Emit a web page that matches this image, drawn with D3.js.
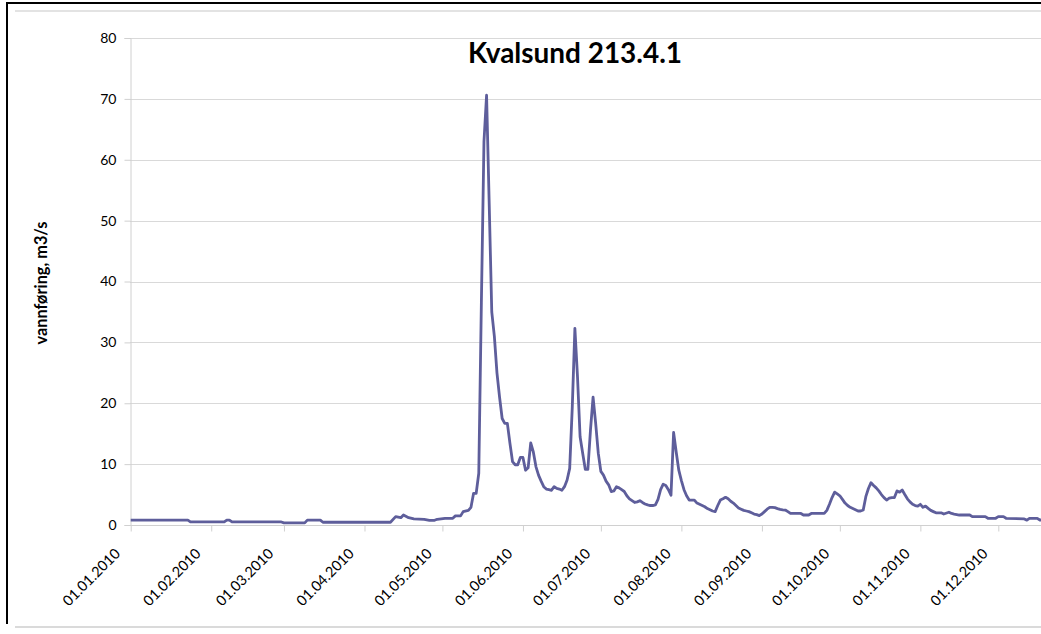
<!DOCTYPE html>
<html>
<head>
<meta charset="utf-8">
<script src="https://cdn.jsdelivr.net/npm/d3@7"></script>
<style>
  html, body { margin: 0; padding: 0; background: #fff; overflow: hidden; }
  svg { display: block; }
  text { font-family: Lato, "Open Sans", sans-serif; fill: #000; }
</style>
</head>
<body>
<svg id="chart" width="1041" height="634"></svg>
<script>
// ---------- data ----------
const chartTitle = "Kvalsund 213.4.1";
const yAxisTitle = "vannføring, m3/s";
const startDate = "2010-01-01";
// day offset from 01.01.2010
const dayOffset = [0,22,23,36,37,38,39,58,59,67,68,73,74,100,102,104,105,107,109,113,115,117,118,121,124,125,127,128,130,131,132,133,134,135,136,137,138,139,140,141,142,143,144,145,146,147,148,149,150,151,152,153,154,155,156,157,158,159,160,161,162,163,164,165,166,167,168,169,170,171,172,173,174,175,176,177,178,179,180,181,182,183,184,185,186,187,188,189,190,191,192,193,194,195,196,197,198,199,200,201,202,203,204,205,206,207,208,209,210,211,212,213,214,215,216,217,218,219,220,221,222,223,224,225,226,227,228,229,230,231,232,233,234,235,236,237,238,239,240,241,242,243,244,245,246,247,248,249,250,251,252,253,254,258,259,261,262,267,268,269,270,271,272,273,274,275,276,277,278,279,280,281,282,283,284,285,286,287,288,289,290,291,292,293,294,295,296,297,298,299,300,301,302,303,304,305,306,307,308,309,310,312,313,315,316,317,319,323,324,329,330,333,334,336,337,344,345,346,349,350,352];
// daily mean flow, m3/s
const flow = [0.8,0.8,0.5,0.5,0.8,0.8,0.5,0.5,0.35,0.35,0.8,0.8,0.45,0.45,1.37,1.2,1.64,1.2,1.0,0.94,0.77,0.77,0.94,1.1,1.1,1.5,1.5,2.2,2.4,2.9,5.2,5.2,8.5,36.5,63,70.6,53,35,31,25,21,17.5,16.7,16.7,13.4,10.4,9.9,9.9,11.1,11.1,9.0,9.4,13.5,12.0,9.6,8.2,7.2,6.3,5.9,5.8,5.7,6.3,6.0,5.9,5.7,6.3,7.4,9.3,19.4,32.3,24.4,14.5,11.8,9.15,9.15,15.6,21.0,16.7,11.8,8.8,8.2,7.2,6.6,5.5,5.6,6.3,6.1,5.8,5.5,4.8,4.3,4.0,3.7,3.8,4.0,3.7,3.45,3.3,3.2,3.2,3.3,4.2,5.8,6.7,6.5,5.8,4.9,15.2,12.0,9.0,7.3,5.8,4.8,4.1,4.1,4.1,3.6,3.4,3.2,3.0,2.7,2.5,2.3,2.2,3.2,4.1,4.3,4.55,4.3,3.9,3.6,3.2,2.8,2.6,2.4,2.3,2.2,2.0,1.8,1.7,1.55,1.8,2.2,2.6,2.9,2.9,2.85,2.7,2.57,2.5,2.46,2.2,1.9,1.9,1.64,1.64,1.9,1.9,2.4,3.4,4.5,5.4,5.1,4.8,4.2,3.6,3.2,2.9,2.7,2.5,2.3,2.3,2.46,4.65,6.0,6.95,6.5,6.1,5.6,5.0,4.5,4.1,4.4,4.5,4.5,5.6,5.4,5.75,5.0,4.3,3.8,3.4,3.2,3.1,3.4,2.9,3.1,2.74,2.4,2.2,2.0,2.0,1.8,2.1,1.9,1.8,1.64,1.64,1.37,1.37,1.1,1.1,1.37,1.37,1.1,1.0,0.8,1.1,1.1,0.82,0.82];
const yTicks = [0,10,20,30,40,50,60,70,80];
const monthTicks = ["2010-01-01","2010-02-01","2010-03-01","2010-04-01","2010-05-01","2010-06-01","2010-07-01","2010-08-01","2010-09-01","2010-10-01","2010-11-01","2010-12-01"];

// ---------- chart ----------
const svg = d3.select("#chart");
const parse = d3.timeParse("%Y-%m-%d");
const fmt = d3.timeFormat("%d.%m.%Y");
const t0 = parse(startDate);
const points = dayOffset.map((d, i) => ({ date: d3.timeDay.offset(t0, d), v: flow[i] }));

const x = d3.scaleTime()
  .domain([parse("2010-01-01"), parse("2010-12-01")])
  .range([130.7, 998.3]);
const y = d3.scaleLinear().domain([0, 80]).range([525, 38]);

// frames
svg.append("line").attr("x1", 15).attr("x2", 1041).attr("y1", 11).attr("y2", 11)
  .attr("stroke", "#dadada").attr("stroke-width", 1.5);
svg.append("line").attr("x1", 15).attr("x2", 1041).attr("y1", 627).attr("y2", 627)
  .attr("stroke", "#dadada").attr("stroke-width", 2);
svg.append("path").attr("d", "M7,624 L7,3 L1041,3")
  .attr("fill", "none").attr("stroke", "#000").attr("stroke-width", 2);

// gridlines
svg.append("g").selectAll("line").data(yTicks.filter(t => t > 0)).join("line")
  .attr("x1", 130).attr("x2", 1041)
  .attr("y1", d => Math.round(y(d)) + 0.5).attr("y2", d => Math.round(y(d)) + 0.5)
  .attr("stroke", "#d9d9d9").attr("stroke-width", 1);

// y axis
const yAxis = d3.axisLeft(y).tickValues(yTicks).tickSize(6).tickPadding(8).tickFormat(d3.format("d"));
const gy = svg.append("g").attr("transform", "translate(130.5,0)").call(yAxis);
gy.select(".domain").attr("stroke", "#d0d0d0");
gy.selectAll(".tick line").attr("stroke", "#d0d0d0");
gy.selectAll(".tick text").attr("font-size", 14).attr("font-family", "Lato").attr("fill", "#000");

// x axis
const xAxis = d3.axisBottom(x).tickValues(monthTicks.map(parse)).tickSize(6).tickFormat(fmt);
const gx = svg.append("g").attr("transform", "translate(0,525.5)").call(xAxis);
gx.select(".domain").attr("d", "M130,0H1041").attr("stroke", "#d0d0d0");
gx.selectAll(".tick line").attr("stroke", "#d0d0d0");
gx.selectAll(".tick text")
  .attr("font-size", 14.5).attr("font-family", "Lato").attr("fill", "#000")
  .attr("text-anchor", "end")
  .attr("dy", 0)
  .attr("y", 0)
  .attr("transform", "translate(-10,29) rotate(-45)");

// line
const line = d3.line().x(d => x(d.date)).y(d => y(d.v));
svg.append("path").datum(points)
  .attr("d", line)
  .attr("fill", "none")
  .attr("stroke", "#5e5e9b")
  .attr("stroke-width", 2.8)
  .attr("stroke-linejoin", "round");

// title
const title = svg.append("text").attr("x", 575).attr("y", 63)
  .attr("text-anchor", "middle").attr("font-weight", "bold")
  .attr("font-size", 28).text(chartTitle);
const tw = title.node().getComputedTextLength();
title.attr("font-size", 28 * 214 / tw);

// y axis title
const yt = svg.append("text").attr("transform", "translate(47,283) rotate(-90)")
  .attr("text-anchor", "middle").attr("font-weight", "bold")
  .attr("font-size", 13).text(yAxisTitle);
const yw = yt.node().getComputedTextLength();
yt.attr("font-size", 13 * 123 / yw);
</script>
</body>
</html>
